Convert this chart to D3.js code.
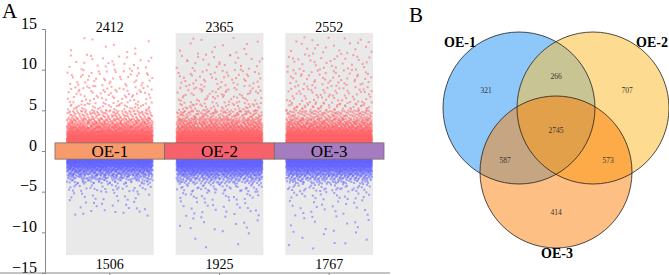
<!DOCTYPE html>
<html>
<head>
<meta charset="utf-8">
<script src="https://cdn.jsdelivr.net/npm/d3@7"></script>
<style>
  body { margin: 0; background: #fff; }
  svg text { font-family: "Liberation Serif", "DejaVu Serif", serif; }
</style>
</head>
<body>
<div id="chart"></div>
<script>
// groups and totals (panel A)
const groups = ["OE-1", "OE-2", "OE-3"];
const upTotals = [2412, 2365, 2552];
const downTotals = [1506, 1925, 1767];
const barColors = ["#f79a6c", "#f6626b", "#a47cbf"];
const yTicks = [15, 10, 5, 0, -5, -10, -15];

// how many points sit in each y band
const upEdges = [1, 1.5, 2, 2.5, 3, 3.5, 4, 5, 6, 8, 10, 12, 14];
const upBandCounts = [
    [740, 534, 340, 230, 150, 110, 120, 50, 60, 45, 25, 8],
    [720, 520, 330, 220, 150, 110, 120, 50, 60, 45, 28, 12],
    [770, 560, 360, 240, 160, 115, 125, 55, 60, 50, 35, 22]
];
const downEdges = [-1, -1.5, -2, -2.5, -3, -3.5, -4, -5, -6, -8, -10, -12];
const downBandCounts = [
    [560, 380, 230, 140, 80, 45, 35, 15, 21, 0, 0],
    [700, 480, 300, 180, 100, 60, 45, 22, 22, 12, 4],
    [640, 440, 270, 165, 95, 55, 42, 20, 20, 12, 8]
];

// panel B
const vennSets = ["OE-1", "OE-2", "OE-3"];
const vennColors = ["#8ec7f9", "#fddb90", "#fdbf83"];
const vennRegions = [
    {sets: [0], value: 321, color: "#8ec7f9"},
    {sets: [1], value: 707, color: "#fddb90"},
    {sets: [2], value: 414, color: "#fdbf83"},
    {sets: [0, 1], value: 266, color: "#c9c494"},
    {sets: [0, 2], value: 587, color: "#c6a582"},
    {sets: [1, 2], value: 573, color: "#fcab48"},
    {sets: [0, 1, 2], value: 2745, color: "#e1a049"}
];

const width = 669, height = 275;

const svg = d3.select("#chart").append("svg")
    .attr("width", width)
    .attr("height", height);

// ---------- panel A ----------
const x = d3.scaleBand().domain(groups).range([55, 384]).paddingInner(0);
const y = d3.scaleLinear().domain([-15, 15]).range([273, 29]);
const colW = x.bandwidth() * 0.8;

svg.append("text").attr("x", 2).attr("y", 18)
    .attr("font-size", 21).text("A");

// gray column backgrounds (first column has none above the bar)
groups.forEach((g, i) => {
    const left = x(g) + (x.bandwidth() - colW) / 2;
    const top = i === 0 ? y(0) : y(14.5);
    svg.append("rect")
        .attr("x", left).attr("y", top)
        .attr("width", colW).attr("height", y(-12.8) - top)
        .attr("fill", "#e9e9e9");
});

// quasi-random lattice used to spread points inside a band
function halton(i, b) {
    let f = 1, r = 0;
    while (i > 0) { f /= b; r += f * (i % b); i = Math.floor(i / b); }
    return r;
}

const points = svg.append("g");
function drawBands(edges, counts, color) {
    groups.forEach((g, gi) => {
        const left = x(g) + (x.bandwidth() - colW) / 2;
        counts[gi].forEach((n, bi) => {
            const lo = edges[bi], hi = edges[bi + 1];
            for (let k = 1; k <= n; k++) {
                const u = halton(k + bi * 97 + gi * 31, 2);
                const v = halton(k + bi * 53 + gi * 17, 3);
                points.append("rect")
                    .attr("x", left + u * (colW - 2))
                    .attr("y", y(lo + v * (hi - lo)) - 1)
                    .attr("width", 2).attr("height", 2)
                    .attr("fill", color)
                    .attr("fill-opacity", 0.55);
            }
        });
    });
}
drawBands(upEdges, upBandCounts, "#ff6266");
drawBands(downEdges, downBandCounts, "#6464ff");

// the group bar across the middle
svg.selectAll(".seg").data(groups).join("rect")
    .attr("class", "seg")
    .attr("x", d => x(d)).attr("y", y(1))
    .attr("width", x.bandwidth()).attr("height", y(-1) - y(1))
    .attr("fill", (d, i) => barColors[i])
    .attr("stroke", "#7a6a66").attr("stroke-width", 0.8);
svg.selectAll(".segl").data(groups).join("text")
    .attr("class", "segl")
    .attr("x", d => x(d) + x.bandwidth() / 2).attr("y", y(0) + 6)
    .attr("text-anchor", "middle").attr("font-size", 17)
    .text(d => d);

// counts
svg.selectAll(".upn").data(upTotals).join("text")
    .attr("class", "upn")
    .attr("x", (d, i) => x(groups[i]) + x.bandwidth() / 2).attr("y", 32)
    .attr("text-anchor", "middle").attr("font-size", 14)
    .text(d => d);
svg.selectAll(".dnn").data(downTotals).join("text")
    .attr("class", "dnn")
    .attr("x", (d, i) => x(groups[i]) + x.bandwidth() / 2).attr("y", 269)
    .attr("text-anchor", "middle").attr("font-size", 14)
    .text(d => d);

// y axis
const yAxis = d3.axisLeft(y).tickValues(yTicks).tickSize(3).tickFormat(d3.format("d"));
const yg = svg.append("g").attr("transform", "translate(45,0)").call(yAxis);
yg.attr("font-family", null);
yg.select(".domain").attr("stroke", "#888");
yg.selectAll(".tick line").attr("stroke", "#888");
yg.selectAll(".tick text")
    .style("font-family", "'Liberation Serif', serif")
    .style("font-size", "16px").attr("fill", "#000")
    .attr("dy", "-0.05em").attr("x", -8);

// x axis
const xAxis = d3.axisBottom(x).tickSize(3).tickFormat("");
const xg = svg.append("g").attr("transform", "translate(0,273)").call(xAxis);
xg.select(".domain").attr("stroke", "#888").attr("d", "M-10,0H390");
xg.selectAll(".tick line").attr("stroke", "#888");

// ---------- panel B ----------
svg.append("text").attr("x", 409).attr("y", 22)
    .attr("font-size", 21).text("B");

const r = 76;
const centers = [
    {cx: 519, cy: 108},
    {cx: 593, cy: 108},
    {cx: 556, cy: 172}
];

const defs = svg.append("defs");
centers.forEach((c, i) => {
    defs.append("clipPath").attr("id", "clip" + i)
        .append("circle").attr("cx", c.cx).attr("cy", c.cy).attr("r", r);
});

const venn = svg.append("g");
// single sets
centers.forEach((c, i) => {
    venn.append("circle").attr("cx", c.cx).attr("cy", c.cy).attr("r", r)
        .attr("fill", vennColors[i]);
});
// overlaps: paint circle b clipped by circle a, and the triple region on top
vennRegions.filter(d => d.sets.length === 2).forEach(d => {
    const c = centers[d.sets[1]];
    venn.append("g").attr("clip-path", `url(#clip${d.sets[0]})`)
        .append("circle").attr("cx", c.cx).attr("cy", c.cy).attr("r", r)
        .attr("fill", d.color);
});
const tri = vennRegions.find(d => d.sets.length === 3);
venn.append("g").attr("clip-path", "url(#clip0)")
    .append("g").attr("clip-path", "url(#clip1)")
    .append("circle").attr("cx", centers[2].cx).attr("cy", centers[2].cy).attr("r", r)
    .attr("fill", tri.color);
// outlines
centers.forEach(c => {
    venn.append("circle").attr("cx", c.cx).attr("cy", c.cy).attr("r", r)
        .attr("fill", "none").attr("stroke", "#222").attr("stroke-width", 0.8);
});

// region labels, placed relative to the circle centres
const labelPos = [
    [centers[0].cx - 33, centers[0].cy - 18],
    [centers[1].cx + 34, centers[1].cy - 18],
    [centers[2].cx, centers[2].cy + 40],
    [(centers[0].cx + centers[1].cx) / 2, centers[0].cy - 32],
    [centers[0].cx - 14, centers[2].cy - 12],
    [centers[1].cx + 15, centers[2].cy - 12],
    [centers[2].cx, centers[0].cy + 22]
];
venn.selectAll(".rn").data(vennRegions).join("text")
    .attr("class", "rn")
    .attr("x", (d, i) => labelPos[i][0]).attr("y", (d, i) => labelPos[i][1] + 2.5)
    .attr("text-anchor", "middle").attr("font-size", 7.5).attr("fill", "#333")
    .text(d => d.value);

// set names
const namePos = [[460, 47], [652, 47], [557, 258]];
venn.selectAll(".sn").data(vennSets).join("text")
    .attr("class", "sn")
    .attr("x", (d, i) => namePos[i][0]).attr("y", (d, i) => namePos[i][1])
    .attr("text-anchor", "middle").attr("font-size", 14).attr("font-weight", "bold")
    .text(d => d);
</script>
</body>
</html>
